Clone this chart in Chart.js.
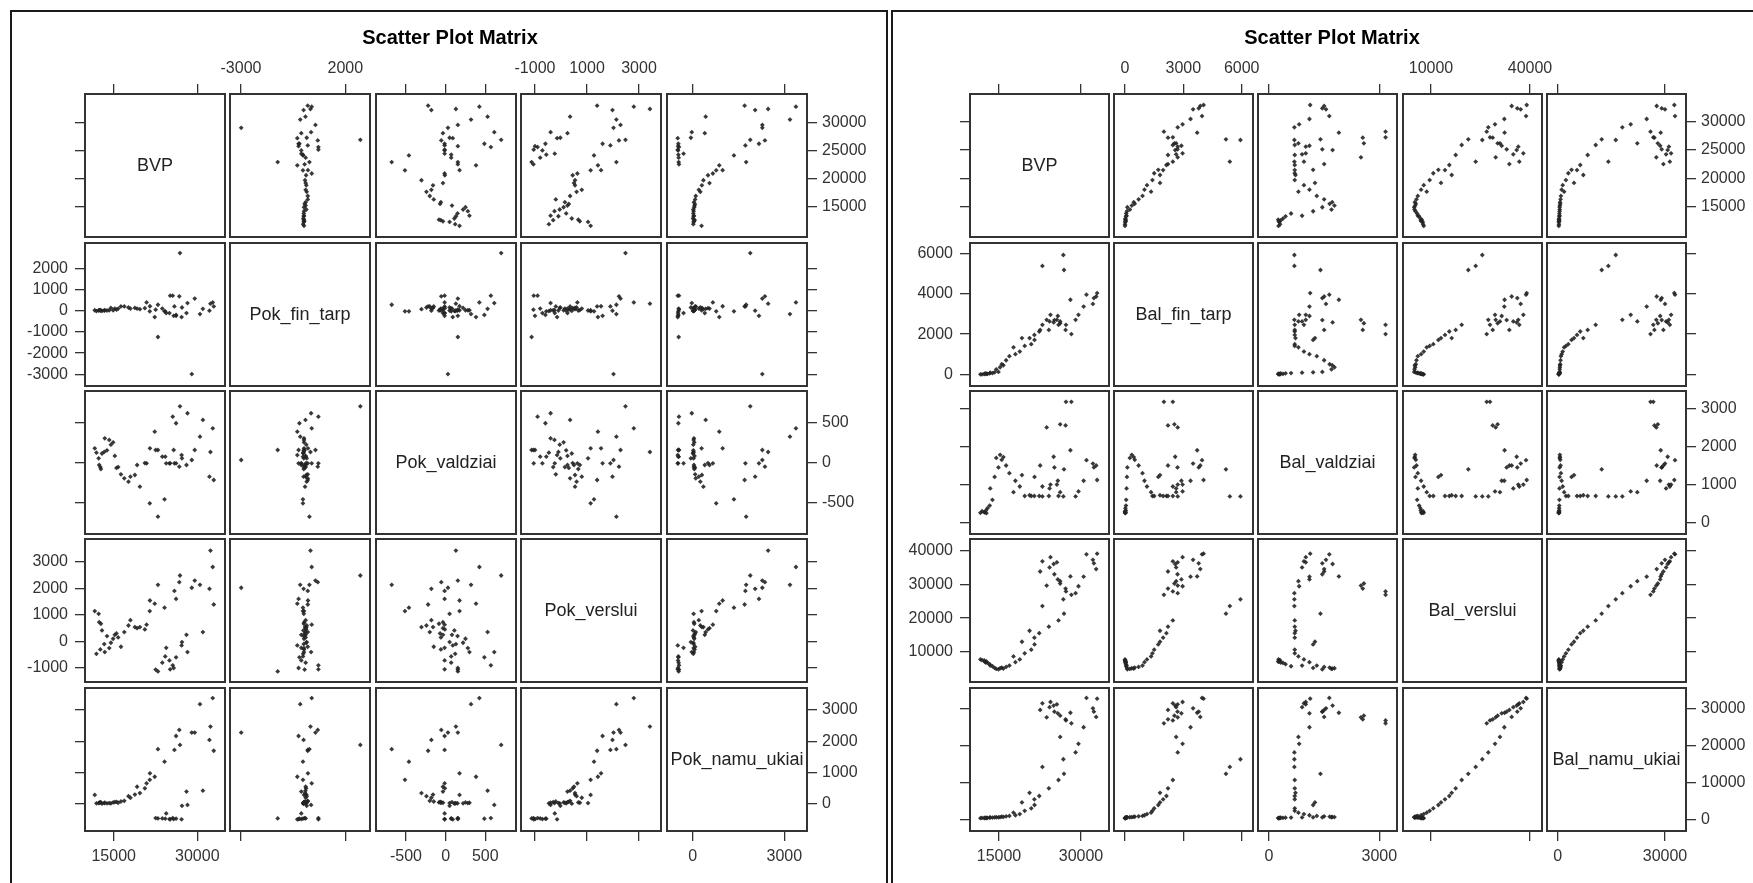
<!DOCTYPE html>
<html>
<head>
<meta charset="utf-8">
<script src="https://cdn.jsdelivr.net/npm/chart.js@4.4.1/dist/chart.umd.min.js"></script>
<style>
  body { margin: 0; width: 1753px; height: 883px; overflow: hidden; position: relative; background: #fff;
         font-family: "Liberation Sans", Arial, sans-serif; }
  .box { position: absolute; border: 2px solid #1a1a1a; box-sizing: border-box; }
  canvas { position: absolute; }
  .title { position: absolute; font-weight: bold; font-size: 20px; color: #000; transform: translateX(-50%); white-space: nowrap; }
  .diag { position: absolute; display: flex; align-items: center; justify-content: center; font-size: 18px; color: #222; white-space: nowrap; }
</style>
</head>
<body>
<div class="box" style="left:10px;top:10px;width:878px;height:900px"></div>
<div class="box" style="left:891px;top:10px;width:900px;height:900px"></div>

<script>
// ---- data: one value per quarter, same order in every array ----
const BVP = [11600, 12300, 12700, 11900, 12400, 12900, 12600, 13300, 13800, 13400,
  14200, 14900, 14500, 15200, 15800, 15500, 16300, 16900, 18000, 18800,
  17650, 19700, 20900, 21500, 19200, 21470, 22360, 20590, 24120, 25890,
  26890, 22940, 26770, 29010, 29540, 26190, 30480, 32770, 32360, 32180,
  32950, 31000, 24420, 22940, 25590, 25000, 24250, 22530, 25130, 25760,
  28060, 23720, 26190, 27180, 27250, 28240];

const BAL_FIN_TARP = [0, 10, 20, 0, 30, 20, 40, 50, 60, 80,
  100, 120, 250, 350, 450, 500, 700, 900, 1000, 1130,
  1340, 1410, 1500, 1710, 1800, 1960, 2130, 1800, 2210, 2460,
  5190, 5390, 5935, 2710, 2960, 2630, 3370, 3870, 3790, 3500,
  4040, 3960, 2960, 2460, 2710, 2580, 2630, 2210, 2700, 2900,
  3710, 2710, 2540, 2210, 2460, 2000];

const BAL_VALDZIAI = [260, 280, 250, 300, 270, 380, 320, 450, 600, 900,
  1200, 1450, 1700, 1780, 1720, 1650, 1500, 1300, 1100, 950,
  800, 700, 700, 1200, 1250, 700, 700, 720, 700, 700,
  1400, 690, 690, 690, 820, 800, 1100, 1500, 1450, 1550,
  1120, 1640, 1000, 950, 1000, 1730, 900, 1500, 1450, 1100,
  1900, 2500, 2580, 2550, 3170, 3170];

const BAL_VERSLUI = [7800, 7500, 7200, 7600, 7100, 6800, 6900, 6400, 5800, 6000,
  5300, 4900, 5000, 5200, 5100, 5400, 5600, 6000, 7000, 7800,
  8700, 9600, 10700, 12230, 13030, 14240, 15550, 16270, 17480, 19300,
  21300, 23540, 25540, 27360, 29400, 30900, 32210, 34450, 36150, 37180,
  39000, 38800, 37980, 36760, 36450, 35960, 34940, 33740, 32930, 31420,
  32300, 29600, 30200, 28700, 27880, 26880];

const BAL_NAMU_UKIAI = [300, 320, 340, 360, 380, 400, 420, 440, 470, 500,
  520, 540, 560, 600, 650, 700, 800, 900, 1100, 1400,
  1800, 2300, 2970, 3870, 4560, 5400, 6300, 7160, 8380, 10620,
  12300, 14160, 16230, 18070, 20410, 22260, 24880, 27680, 29080, 30000,
  32600, 32800, 31700, 31350, 31080, 30750, 30300, 29550, 29080, 28650,
  28800, 27570, 28000, 27030, 26730, 25950];

const POK_FIN_TARP = [20, 10, 10, -20, 30, -10, 20, 10, 10, 20,
  20, 20, 130, 100, 100, 50, 200, 200, 100, 130,
  150, 70, 390, 210, 100, -30, -300, 120, -30, 200,
  2720, 280, 680, -2990, 570, -240, -160, 390, 330, 0,
  200, 90, -110, -1240, 710, -110, -30, 50, 710, -240,
  -110, 100, -200, -300, 150, 360];

const POK_VALDZIAI = [175, 50, -84, 120, -34, 110, -60, 130, 150, 300,
  280, 250, 220, 80, -60, -70, -150, -200, -180, -159,
  -242, -305, -13, 175, -34, -513, 383, -10, -463, -13,
  700, -680, -55, 29, 154, -13, 320, 425, 129, -180,
  -221, 529, -13, 154, 570, -13, 70, 154, -13, 154,
  -34, 70, 488, 90, 50, 613];

const POK_VERSLUI = [1140, 1040, 665, -465, 725, 414, -300, -100, 200, -400,
  -250, 100, -50, 250, 150, 300, -200, 350, 800, 540,
  600, 540, 630, 1540, 500, 1140, 1420, 450, 1270, 1900,
  2480, 2130, 2230, 2020, 2290, 1600, 2130, 2800, 3420, 1980,
  1390, 350, -240, -1130, -900, -715, -565, -1060, -1050, -1000,
  250, -800, -600, -150, -25, -400];

const POK_NAMU_UKIAI = [290, 30, 50, 20, 40, 10, 60, 30, 20, 40,
  30, 50, 20, 60, 40, 70, 80, 100, 200, 300,
  250, 350, 660, 980, 550, 770, 870, 500, 1350, 1725,
  1885, 1750, 2365, 2280, 2280, 2170, 3185, 3380, 2470, 2045,
  1700, 425, -300, -460, -450, -480, -470, -450, -490, -480,
  395, -460, -470, -490, -60, -30];

const LEFT_NAMES = ["BVP", "Pok_fin_tarp", "Pok_valdziai", "Pok_verslui", "Pok_namu_ukiai"];
const RIGHT_NAMES = ["BVP", "Bal_fin_tarp", "Bal_valdziai", "Bal_verslui", "Bal_namu_ukiai"];

// tick values, horizontal axes (per column) and vertical axes (per row)
const LEFT_X_TICKS = [[15000, 30000], [-3000, 2000], [-500, 0, 500], [-1000, 1000, 3000], [0, 3000]];
const LEFT_Y_TICKS = [[15000, 20000, 25000, 30000], [-3000, -2000, -1000, 0, 1000, 2000], [-500, 0, 500],
  [-1000, 0, 1000, 2000, 3000], [0, 1000, 2000, 3000]];
const RIGHT_X_TICKS = [[15000, 30000], [0, 3000, 6000], [0, 3000], [10000, 40000], [0, 30000]];
const RIGHT_Y_TICKS = [[15000, 20000, 25000, 30000], [0, 2000, 4000, 6000], [0, 1000, 2000, 3000],
  [10000, 20000, 30000, 40000], [0, 10000, 20000, 30000]];

// axis extents
const LEFT_X_RANGE = [[9851, 34969], [-3527, 3184], [-878, 887], [-1538, 3846], [-842, 3743]];
const LEFT_Y_RANGE = [[9616, 35029], [-3552, 3193], [-896, 891], [-1527, 3854], [-862, 3702]];
const RIGHT_X_RANGE = [[9696, 35121], [-566, 6581], [-299, 3481], [1516, 43636], [-2992, 35872]];
const RIGHT_Y_RANGE = [[9652, 34889], [-582, 6532], [-296, 3454], [1150, 43334], [-3163, 35487]];

// ---- layout ----
const ROWS = [94, 243, 391, 539, 688];
const ROW_H = 143;
const E = 80; // spare canvas around each panel for axes
const FONT = '"Liberation Sans", Arial, sans-serif';

const matrices = [
  { cols: [85, 230, 376, 521, 667], colW: 140, titleX: 450, names: LEFT_NAMES,
    series: [BVP, POK_FIN_TARP, POK_VALDZIAI, POK_VERSLUI, POK_NAMU_UKIAI],
    xTicks: LEFT_X_TICKS, yTicks: LEFT_Y_TICKS, xRange: LEFT_X_RANGE, yRange: LEFT_Y_RANGE },
  { cols: [970, 1114, 1258, 1403, 1547], colW: 139, titleX: 1332, names: RIGHT_NAMES,
    series: [BVP, BAL_FIN_TARP, BAL_VALDZIAI, BAL_VERSLUI, BAL_NAMU_UKIAI],
    xTicks: RIGHT_X_TICKS, yTicks: RIGHT_Y_TICKS, xRange: RIGHT_X_RANGE, yRange: RIGHT_Y_RANGE }
];

const framePlugin = {
  id: "frame",
  afterDraw(chart) {
    const a = chart.chartArea, ctx = chart.ctx;
    ctx.save();
    ctx.strokeStyle = "#333";
    ctx.lineWidth = 2;
    ctx.strokeRect(a.left, a.top, a.right - a.left, a.bottom - a.top);
    ctx.restore();
  }
};

function axis(dir, pos, show, labels, range, ticks) {
  return {
    type: "linear", axis: dir, position: pos, display: show,
    min: range[0], max: range[1],
    afterBuildTicks: (s) => { s.ticks = ticks.map((v) => ({ value: v })); },
    afterFit: (s) => {
      if (show) {
        if (dir === "x") s.height = E; else s.width = E;
      } else {
        s.width = dir === "x" ? s.width : 0;
        s.height = dir === "x" ? 0 : s.height;
      }
      s.paddingLeft = s.paddingRight = s.paddingTop = s.paddingBottom = 0;
    },
    grid: { display: true, drawOnChartArea: false, drawTicks: true, tickLength: 10, color: "#333", lineWidth: 1.3 },
    border: { display: false },
    ticks: {
      display: labels, autoSkip: false, maxRotation: 0, minRotation: 0, color: "#333",
      padding: dir === "x" ? 6 : (pos === "left" ? 7 : 5),
      font: { family: FONT, size: 16 },
      callback: (v) => String(v)
    }
  };
}

function makePanel(mx, r, c) {
  const left = mx.cols[c], top = ROWS[r];
  const cv = document.createElement("canvas");
  cv.width = mx.colW + 2 * E;
  cv.height = ROW_H + 2 * E;
  cv.style.left = (left - E) + "px";
  cv.style.top = (top - E) + "px";
  document.body.appendChild(cv);

  const hasTop = r === 0, hasBottom = r === 4, hasLeft = c === 0, hasRight = c === 4;
  const datasets = [];
  if (r !== c) {
    const xs = mx.series[c], ys = mx.series[r];
    datasets.push({
      data: xs.map((x, i) => ({ x: x, y: ys[i] })),
      pointStyle: "rectRot", pointRadius: 2.4, borderWidth: 0,
      backgroundColor: "rgba(35,35,35,0.9)"
    });
  }

  new Chart(cv, {
    type: "scatter",
    data: { datasets },
    options: {
      responsive: false, animation: false, events: [],
      layout: { autoPadding: false, padding: {
        left: hasLeft ? 0 : E, right: hasRight ? 0 : E, top: hasTop ? 0 : E, bottom: hasBottom ? 0 : E } },
      plugins: { legend: { display: false }, tooltip: { enabled: false } },
      scales: {
        x: axis("x", "bottom", hasBottom, c % 2 === 0, mx.xRange[c], mx.xTicks[c]),
        x2: axis("x", "top", hasTop, c % 2 === 1, mx.xRange[c], mx.xTicks[c]),
        y: axis("y", "left", hasLeft, r % 2 === 1, mx.yRange[r], mx.yTicks[r]),
        y2: axis("y", "right", hasRight, r % 2 === 0, mx.yRange[r], mx.yTicks[r])
      }
    },
    plugins: [framePlugin]
  });

  if (r === c) {
    const d = document.createElement("div");
    d.className = "diag";
    d.style.left = left + "px";
    d.style.top = top + "px";
    d.style.width = mx.colW + "px";
    d.style.height = ROW_H + "px";
    d.textContent = mx.names[r];
    document.body.appendChild(d);
  }
}

matrices.forEach((mx) => {
  for (let r = 0; r < 5; r++) {
    for (let c = 0; c < 5; c++) makePanel(mx, r, c);
  }
  const t = document.createElement("div");
  t.className = "title";
  t.style.left = mx.titleX + "px";
  t.style.top = "26px";
  t.textContent = "Scatter Plot Matrix";
  document.body.appendChild(t);
});
</script>
</body>
</html>
